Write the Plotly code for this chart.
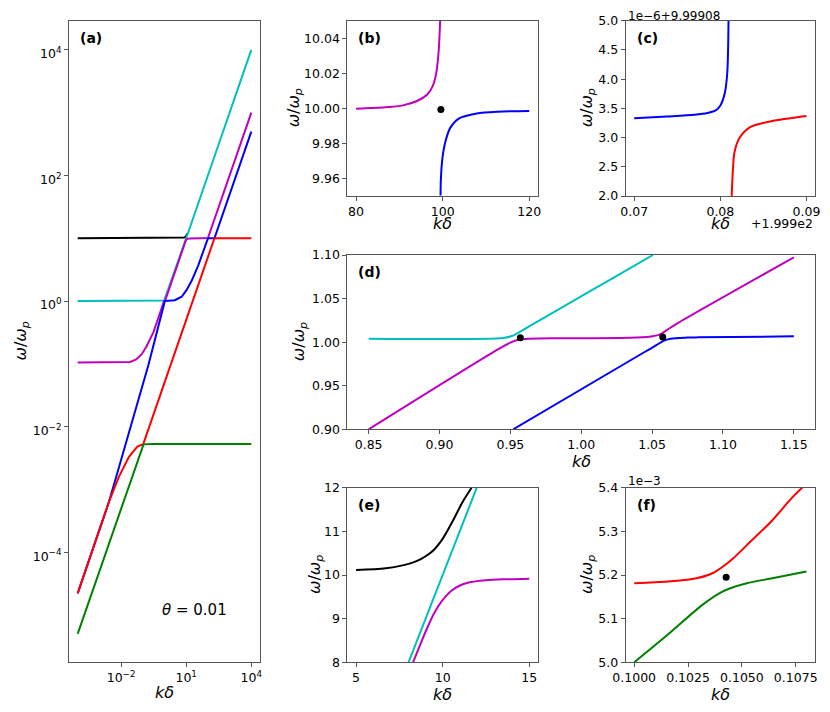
import plotly.graph_objects as go

# the page body keeps an 8 px margin, so the figure is drawn 16 px smaller
PAD = 8
W, H = 830 - 2 * PAD, 712 - 2 * PAD

# ---- panel (a): log-log overview, theta = 0.01
a_black_k = [1e-4, 1e-2, 1.0, 5.0, 8.0, 9.3, 10.5, 11.7]
a_black_w = [10.0, 10.0, 10.01, 10.12, 10.26, 10.5, 11.2, 12.0]
a_cyan_k = [1e-4, 1e-2, 0.5, 0.95, 0.97, 1.05, 8.0, 12.0, 1e4]
a_cyan_w = [1.004, 1.004, 1.004, 1.006, 1.02, 1.10, 8.0, 12.0, 1e4]
a_magenta_k = [1e-4, 1e-2, 0.026, 0.05, 0.089, 0.15, 0.31, 0.6, 0.95, 1.06, 1.15,
               8.3, 9.5, 10.5, 11.5, 15.0, 50.0, 99.4, 100.5, 1e4]
a_magenta_w = [0.105, 0.105, 0.107, 0.117, 0.142, 0.19, 0.32, 0.62, 1.0, 1.006, 1.095,
               8.0, 9.12, 9.64, 9.83, 9.915, 9.99, 10.0, 10.05, 1e3]
a_blue_k = [1e-4, 2.75e-3, 7.4e-3, 0.033, 0.18, 1.0, 1.06, 3.0, 6.2, 10.5, 17.8,
            36.0, 62.0, 99.4, 101.0, 200.0, 1e4]
a_blue_w = [2.2e-5, 6.3e-4, 2.05e-3, 0.0126, 0.095, 0.95, 1.003, 1.03, 1.17, 1.5, 2.1,
            3.7, 6.1, 9.94, 9.99, 10.0, 500.0]
a_red_k = [1e-4, 2.75e-3, 7.9e-3, 0.023, 0.056, 0.1, 0.104, 0.108, 200.0, 1e4]
a_red_w = [2.2e-5, 6.3e-4, 1.58e-3, 3.3e-3, 4.8e-3, 5.18e-3, 5.22e-3, 5.4e-3, 10.0, 10.0]
a_green_k = [1e-4, 0.1, 0.104, 0.108, 0.3, 1e4]
a_green_w = [5.0e-6, 5.0e-3, 5.17e-3, 5.21e-3, 5.3e-3, 5.3e-3]

# ---- panel (b): crossing near k=100
b_magenta_k = [80.0, 86.75, 90.81, 94.07, 96.5, 97.72, 98.54, 99.11, 99.43]
b_magenta_w = [9.9998, 10.0006, 10.0017, 10.0042, 10.008, 10.0128, 10.0204, 10.0337, 10.0505]
b_blue_k = [99.51, 99.59, 99.92, 100.57, 101.79, 103.82, 107.89, 112.76, 120.0]
b_blue_w = [9.9503, 9.9594, 9.9709, 9.9804, 9.989, 9.9943, 9.9971, 9.9981, 9.9985]
b_dot_k = [99.59]
b_dot_w = [9.9994]

# ---- panel (c): crossing near k=199.98 (values shown relative to axis offsets)
c_blue_k = [0.0700, 0.0738, 0.0770, 0.0785, 0.0795, 0.0800, 0.0805, 0.0808, 0.08095]
c_blue_w = [3.33, 3.36, 3.39, 3.42, 3.47, 3.55, 3.75, 4.1, 5.0]
c_red_k = [0.08132, 0.08144, 0.08164, 0.08225, 0.08346, 0.08589, 0.0900]
c_red_w = [2.0, 2.4, 2.75, 3.0, 3.18, 3.28, 3.37]

# ---- panel (d): double crossing near k=1
d_cyan_k = [0.85, 0.945, 0.951, 0.957, 0.965, 0.984, 1.009, 1.033, 1.0506]
d_cyan_w = [1.004, 1.0048, 1.007, 1.012, 1.0197, 1.0376, 1.061, 1.0836, 1.10]
d_magenta_k = [0.85, 0.94, 0.95, 0.955, 0.96, 0.97, 0.984, 1.033, 1.048, 1.0555, 1.0604, 1.0678, 1.15]
d_magenta_w = [0.90, 0.9906, 0.9995, 1.0025, 1.0037, 1.0042, 1.0044, 1.0051, 1.0063, 1.009, 1.0139, 1.0216, 1.0973]
d_blue_k = [0.952, 1.045, 1.053, 1.058, 1.063, 1.075, 1.0825, 1.15]
d_blue_w = [0.90, 0.989, 0.9965, 1.0015, 1.004, 1.0052, 1.0055, 1.0067]
d_dot_k = [0.957, 1.0575]
d_dot_w = [1.0051, 1.0059]

# ---- panel (e): crossing near k=10
e_black_k = [5.0, 6.72, 8.13, 8.74, 9.34, 9.95, 10.56, 11.16, 11.67]
e_black_w = [10.115, 10.153, 10.267, 10.366, 10.519, 10.80, 11.22, 11.68, 12.0]
e_cyan_k = [8.03, 11.97]
e_cyan_w = [8.0, 12.0]
e_magenta_k = [8.29, 8.7, 9.1, 9.5, 9.95, 10.5, 11.0, 11.5, 12.5, 13.5, 15.0]
e_magenta_w = [8.0, 8.40, 8.78, 9.12, 9.40, 9.64, 9.76, 9.83, 9.88, 9.90, 9.915]

# ---- panel (f): crossing near k=0.104 (omega in units of 1e-3)
f_red_k = [0.1000, 0.10155, 0.10283, 0.10363, 0.10411, 0.10459, 0.10539, 0.10635, 0.10731, 0.1080]
f_red_w = [5.181, 5.185, 5.192, 5.204, 5.219, 5.238, 5.276, 5.322, 5.376, 5.41]
f_green_k = [0.1000, 0.10155, 0.10315, 0.10395, 0.10443, 0.10523, 0.10635, 0.1080]
f_green_w = [5.0, 5.063, 5.131, 5.158, 5.169, 5.181, 5.192, 5.208]
f_dot_k = [0.10427]
f_dot_w = [5.195]

BLACK, CYAN, MAGENTA = "#000000", "#00bfbf", "#bf00bf"
BLUE, RED, GREEN = "#0000ff", "#ff0000", "#008000"
FONT = "DejaVu Sans"

# panel frames in window pixels: (left, right, top, bottom)
frames = {
    "": (69, 260, 21, 662),
    "2": (347.4, 537.9, 20.7, 196),
    "3": (625.6, 815.1, 20.7, 196),
    "4": (347.4, 815.1, 255, 429.3),
    "5": (347.4, 537.9, 487.7, 662.3),
    "6": (625.6, 815.1, 487.7, 662.3),
}


def px(x):
    return (x - PAD) / W


def py(y):
    return 1 - (y - PAD) / H


fig = go.Figure()


def line(k, w, color, ax, smooth=True):
    shape = dict(shape="spline", smoothing=0.8) if smooth else {}
    fig.add_trace(go.Scatter(x=k, y=w, mode="lines", line=dict(color=color, width=2, **shape),
                             xaxis="x" + ax, yaxis="y" + ax, hoverinfo="skip"))


def dots(k, w, ax):
    fig.add_trace(go.Scatter(x=k, y=w, mode="markers", marker=dict(color="black", size=7),
                             xaxis="x" + ax, yaxis="y" + ax, hoverinfo="skip"))


line(a_black_k, a_black_w, BLACK, "", False)
line(a_cyan_k, a_cyan_w, CYAN, "", False)
line(a_magenta_k, a_magenta_w, MAGENTA, "", False)
line(a_blue_k, a_blue_w, BLUE, "", False)
line(a_red_k, a_red_w, RED, "", False)
line(a_green_k, a_green_w, GREEN, "", False)

line(b_magenta_k, b_magenta_w, MAGENTA, "2")
line(b_blue_k, b_blue_w, BLUE, "2")
dots(b_dot_k, b_dot_w, "2")

line(c_blue_k, c_blue_w, BLUE, "3")
line(c_red_k, c_red_w, RED, "3")

line(d_cyan_k, d_cyan_w, CYAN, "4")
line(d_magenta_k, d_magenta_w, MAGENTA, "4")
line(d_blue_k, d_blue_w, BLUE, "4")
dots(d_dot_k, d_dot_w, "4")

line(e_black_k, e_black_w, BLACK, "5")
line(e_cyan_k, e_cyan_w, CYAN, "5", False)
line(e_magenta_k, e_magenta_w, MAGENTA, "5")

line(f_red_k, f_red_w, RED, "6")
line(f_green_k, f_green_w, GREEN, "6")
dots(f_dot_k, f_dot_w, "6")

base = dict(showline=True, mirror=True, linecolor="#555", linewidth=1, ticks="outside",
            ticklen=4, tickwidth=1, tickcolor="#555", showgrid=False, zeroline=False,
            automargin=False, tickfont=dict(family=FONT, size=12.5, color="black"))

xopts = {
    "": dict(type="log", range=[-4.4, 4.4], tickvals=[1e-2, 1e1, 1e4],
             ticktext=["10<sup>−2</sup>", "10<sup>1</sup>", "10<sup>4</sup>"]),
    "2": dict(range=[78, 122], tickvals=[80, 100, 120]),
    "3": dict(range=[0.069, 0.091], tickvals=[0.07, 0.08, 0.09], ticktext=["0.07", "0.08", "0.09"]),
    "4": dict(range=[0.835, 1.165], tickvals=[0.85, 0.9, 0.95, 1.0, 1.05, 1.1, 1.15],
              ticktext=["0.85", "0.90", "0.95", "1.00", "1.05", "1.10", "1.15"]),
    "5": dict(range=[4.5, 15.5], tickvals=[5, 10, 15]),
    "6": dict(range=[0.0996, 0.1084], tickvals=[0.1, 0.1025, 0.105, 0.1075],
              ticktext=["0.1000", "0.1025", "0.1050", "0.1075"]),
}
yopts = {
    "": dict(type="log", range=[-5.75, 4.46], tickvals=[1e-4, 1e-2, 1, 1e2, 1e4],
             ticktext=["10<sup>−4</sup>", "10<sup>−2</sup>", "10<sup>0</sup>",
                       "10<sup>2</sup>", "10<sup>4</sup>"], ticklabelshift=4),
    "2": dict(range=[9.95, 10.05], tickvals=[9.96, 9.98, 10.0, 10.02, 10.04],
              ticktext=["9.96", "9.98", "10.00", "10.02", "10.04"]),
    "3": dict(range=[2.0, 5.0], tickvals=[2.0, 2.5, 3.0, 3.5, 4.0, 4.5, 5.0],
              ticktext=["2.0", "2.5", "3.0", "3.5", "4.0", "4.5", "5.0"]),
    "4": dict(range=[0.9, 1.1], tickvals=[0.9, 0.95, 1.0, 1.05, 1.1],
              ticktext=["0.90", "0.95", "1.00", "1.05", "1.10"]),
    "5": dict(range=[8, 12], tickvals=[8, 9, 10, 11, 12]),
    "6": dict(range=[5.0, 5.4], tickvals=[5.0, 5.1, 5.2, 5.3, 5.4],
              ticktext=["5.0", "5.1", "5.2", "5.3", "5.4"]),
}

layout = dict(width=W, height=H, margin=dict(l=0, r=0, t=0, b=0, autoexpand=False),
              showlegend=False, plot_bgcolor="white", paper_bgcolor="white",
              font=dict(family=FONT, size=12, color="black"))
annotations = []
labels = {"": "(a)", "2": "(b)", "3": "(c)", "4": "(d)", "5": "(e)", "6": "(f)"}
ytitle = "<i>ω</i>/<i>ω</i><sub><i>p</i></sub>"
ytitle_x = {"": 21, "2": 294, "3": 587, "4": 299, "5": 315, "6": 587}
xtitle_y = {"": 692, "2": 224, "3": 224, "4": 461, "5": 694, "6": 694}


def note(text, x, y, size=12, xanchor="center", angle=0):
    return dict(text=text, x=px(x), y=py(y), xref="paper", yref="paper", xanchor=xanchor,
                yanchor="middle", textangle=angle, showarrow=False,
                font=dict(family=FONT, size=size, color="black"))


for ax, (l, r, t, b) in frames.items():
    layout["xaxis" + ax] = dict(base, domain=[px(l), px(r)], anchor="y" + ax, **xopts[ax])
    layout["yaxis" + ax] = dict(base, domain=[py(b), py(t)], anchor="x" + ax, **yopts[ax])
    annotations.append(note("<b>" + labels[ax] + "</b>", l + 9, t + 17, 14, "left"))
    annotations.append(note(ytitle, ytitle_x[ax], (t + b) / 2, 16, angle=-90))
    annotations.append(note("<i>kδ</i>", (l + r) / 2, xtitle_y[ax], 16))

annotations += [
    note("<i>θ</i> = 0.01", 194.5, 610, 15),
    note("1e−6+9.99908", 625.6, 16, 12, "left"),
    note("+1.999e2", 815.1, 223, 12.5, "right"),
    note("1e−3", 625.6, 481, 12, "left"),
]
layout["annotations"] = annotations

fig.update_layout(**layout)
fig.write_html("out.html")
